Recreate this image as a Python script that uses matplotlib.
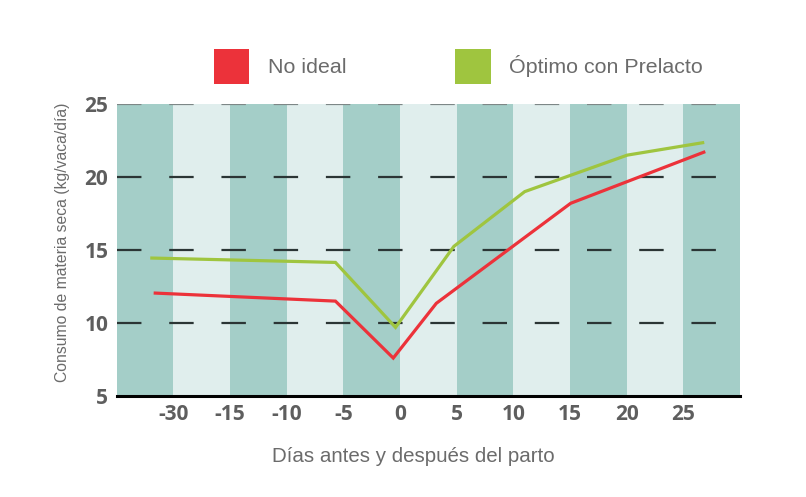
import matplotlib
matplotlib.use("Agg")
import matplotlib.pyplot as plt
from matplotlib.patches import Patch

# x positions are in "band" units (each shaded column = 1)
tick_labels = ["-30", "-15", "-10", "-5", "0", "5", "10", "15", "20", "25"]
n_bands = 11

red_x = [0.68, 3.86, 4.88, 5.64, 8.01, 10.36]
red_y = [12.05, 11.5, 7.6, 11.35, 18.2, 21.7]

green_x = [0.62, 3.86, 4.92, 5.95, 7.2, 9.01, 10.34]
green_y = [14.45, 14.15, 9.7, 15.25, 19.0, 21.5, 22.35]

series_names = ["No ideal", "Óptimo con Prelacto"]

RED = "#ec323a"
GREEN = "#9fc53f"
DARK_BAND = "#a4cec8"
LIGHT_BAND = "#e0eeed"
TXT = "#6b6b6b"

fig = plt.figure(figsize=(8.06, 4.97), dpi=100)
ax = fig.add_axes([0.1448, 0.2032, 0.9182 - 0.1448, 0.5875])

for i in range(n_bands):
    ax.axvspan(i, i + 1, color=DARK_BAND if i % 2 == 0 else LIGHT_BAND, lw=0, zorder=0)

for v in [10, 15, 20]:
    ax.axhline(v, color="#2b3535", lw=1.6, dashes=(11, 12.5), dash_capstyle="butt", zorder=1)
ax.axhline(25, color="#7d8787", lw=1.6, dashes=(11, 12.5), dash_capstyle="butt", zorder=1)

ax.plot(red_x, red_y, color=RED, lw=2.3, zorder=3, solid_joinstyle="miter")
ax.plot(green_x, green_y, color=GREEN, lw=2.3, zorder=3, solid_joinstyle="miter")

ax.set_xlim(0, n_bands)
ax.set_ylim(5, 25)
ax.set_xticks(range(1, n_bands))
ax.set_xticklabels(tick_labels)
ax.set_yticks([5, 10, 15, 20, 25])

for s in ["top", "right", "left"]:
    ax.spines[s].set_visible(False)
ax.spines["bottom"].set_color("black")
ax.spines["bottom"].set_linewidth(2.2)
ax.spines["bottom"].set_zorder(4)

ax.tick_params(axis="x", length=0, pad=6, labelcolor="#5e5e5e")
ax.tick_params(axis="y", length=0, pad=6, labelcolor="#5e5e5e")
for lab in ax.get_xticklabels() + ax.get_yticklabels():
    lab.set_fontfamily("Open Sans")
    lab.set_fontweight("bold")
    lab.set_fontsize(15)

ax.set_xlabel("Días antes y después del parto", family="Liberation Sans",
              fontsize=14.8, color=TXT)
ax.xaxis.set_label_coords((413 - 116.7) / (740 - 116.7), -0.175)
ax.set_ylabel("Consumo de materia seca (kg/vaca/día)", family="Liberation Sans",
              fontsize=11.3, color=TXT)
ax.yaxis.set_label_coords((70 - 116.7) / (740 - 116.7), (497 - 242.5 - 101) / 292)

handles = [Patch(facecolor=RED, edgecolor="none"), Patch(facecolor=GREEN, edgecolor="none")]
leg = ax.legend(handles, series_names, loc="lower center", bbox_to_anchor=(0.548, 1.003),
                ncol=2, frameon=False, handlelength=1.65, handleheight=2.1,
                handletextpad=0.85, columnspacing=5.1,
                prop={"family": "Liberation Sans", "size": 15.4})
for t in leg.get_texts():
    t.set_color(TXT)

fig.savefig("out.png", dpi=100)
